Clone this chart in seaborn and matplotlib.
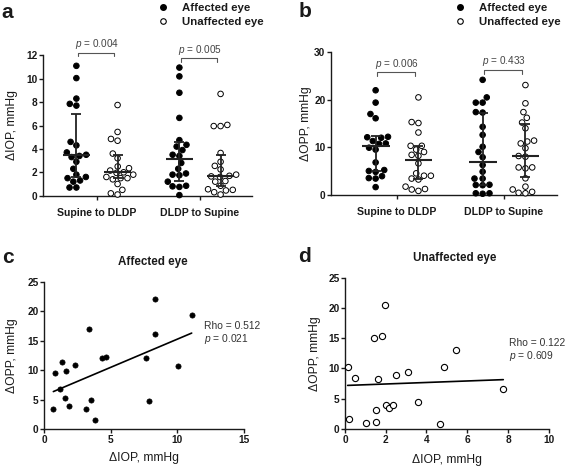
import numpy as np
import pandas as pd
import matplotlib
matplotlib.use("Agg")
import matplotlib.pyplot as plt
from matplotlib.lines import Line2D
import seaborn as sns

# categories
conditions = ["Supine to DLDP", "DLDP to Supine"]
eyes = ["Affected eye", "Unaffected eye"]

# panel a : delta IOP per eye
iop_aff_s2d = [0.7, 0.7, 1.2, 1.3, 1.5, 1.6, 1.8, 2.3, 2.9, 3.3, 3.4, 3.5, 3.7, 4.3, 4.6, 7.7, 7.85, 8.3, 10.05, 11.1]
iop_una_s2d = [0.1, 0.2, 0.5, 1.0, 1.4, 1.5, 1.5, 1.6, 1.8, 1.95, 2.0, 2.15, 2.35, 2.5, 3.2, 3.6, 4.7, 4.85, 5.45, 7.75]
iop_aff_d2s = [0.05, 0.75, 0.8, 0.85, 1.2, 1.75, 1.8, 1.9, 2.3, 2.8, 3.4, 3.5, 3.9, 4.2, 4.35, 4.75, 6.65, 8.8, 10.2, 10.95]
iop_una_d2s = [0.1, 0.3, 0.45, 0.5, 0.55, 0.85, 1.2, 1.25, 1.6, 1.65, 1.7, 1.8, 2.25, 2.55, 2.9, 3.65, 5.95, 5.95, 6.05, 8.7]
# median and 95% CI (order: s2d aff, s2d una, d2s aff, d2s una)
iop_med = [3.45, 2.0, 3.13, 1.68]
iop_lo = [1.6, 1.55, 1.25, 0.83]
iop_hi = [6.95, 3.5, 4.6, 3.45]
iop_p = ["0.004", "0.005"]

# panel b : delta OPP per eye
opp_aff_s2d = [1.6, 3.4, 3.5, 3.9, 4.8, 5.0, 5.2, 6.8, 9.5, 9.9, 10.7, 10.8, 11.3, 12.0, 12.1, 12.2, 16.1, 17.0, 19.4, 22.0]
opp_una_s2d = [0.8, 1.1, 1.2, 1.7, 3.2, 3.4, 4.0, 4.0, 4.5, 6.6, 8.2, 8.4, 9.0, 9.5, 10.3, 10.3, 13.1, 15.1, 15.3, 20.5]
opp_aff_d2s = [0.2, 0.3, 0.3, 2.0, 2.05, 2.1, 3.4, 3.4, 4.85, 6.25, 7.9, 9.0, 10.1, 12.6, 14.3, 17.3, 17.4, 19.4, 19.4, 20.5, 24.2]
opp_una_d2s = [0.3, 0.4, 0.6, 1.1, 1.7, 3.45, 5.55, 5.75, 5.75, 8.0, 8.15, 9.8, 10.8, 11.2, 11.4, 14.0, 15.2, 16.2, 17.4, 19.25, 23.1]
opp_med = [10.25, 7.4, 6.8, 8.2]
opp_lo = [4.9, 3.4, 2.0, 3.8]
opp_hi = [12.3, 10.3, 17.3, 14.9]
opp_p = ["0.006", "0.433"]

# panel c / d : IOP vs OPP
c_iop = [0.68, 0.8, 1.18, 1.3, 1.55, 1.63, 1.85, 2.28, 3.16, 3.38, 3.48, 3.78, 4.31, 4.63, 7.64, 7.86, 8.29, 8.29, 10.04, 11.07]
c_opp = [3.4, 9.45, 6.85, 11.3, 5.2, 9.9, 3.9, 10.86, 3.45, 16.97, 4.98, 1.58, 12.1, 12.27, 12.05, 4.8, 22.06, 16.18, 10.63, 19.4]
d_iop = [0.13, 0.21, 0.49, 1.03, 1.42, 1.5, 1.54, 1.64, 1.82, 1.98, 2.01, 2.18, 2.34, 2.5, 3.09, 3.6, 4.68, 4.84, 5.43, 7.77]
d_opp = [10.3, 1.65, 8.4, 1.05, 15.1, 1.2, 3.2, 8.2, 15.3, 20.5, 4.0, 3.4, 4.0, 9.0, 9.5, 4.5, 0.77, 10.3, 13.1, 6.55]
c_rho, c_p = "0.512", "0.021"
d_rho, d_p = "0.122", "0.609"

sns.set_style("ticks")
plt.rcParams["font.family"] = ["Liberation Sans", "DejaVu Sans"]
plt.rcParams["mathtext.fontset"] = "custom"
plt.rcParams["mathtext.it"] = "Liberation Sans:italic"
plt.rcParams["mathtext.rm"] = "Liberation Sans"
ink = "#1a1a1a"
grey = "#555555"

fig = plt.figure(figsize=(5.67, 4.71), dpi=100)
W, H = 567.0, 471.0


def box(l, r, b, t):
    # pixel box -> figure fraction
    return [l / W, 1 - b / H, (r - l) / W, (b - t) / H]


def style_axes(ax):
    sns.despine(ax=ax)
    for s in ["left", "bottom"]:
        ax.spines[s].set_linewidth(1.0)
        ax.spines[s].set_color(ink)
    ax.tick_params(length=3, width=1.0, colors=ink, labelsize=7.3, pad=1.0)
    for lab in ax.get_xticklabels() + ax.get_yticklabels():
        lab.set_fontweight("bold")


def strip_panel(ax, groups, med, lo, hi, pvals, yticks, ylabel, xlim, br_y, txt_y, br_drop):
    rows = []
    for ci, cond in enumerate(conditions):
        for ei, eye in enumerate(eyes):
            for v in groups[ci][ei]:
                rows.append((cond, eye, v))
    df = pd.DataFrame(rows, columns=["cond", "eye", "val"])
    sns.swarmplot(data=df, x="cond", y="val", hue="eye", order=conditions, hue_order=eyes,
                  dodge=True, palette={"Affected eye": "black", "Unaffected eye": "white"},
                  size=4, edgecolor="black", linewidth=0.7, legend=False, ax=ax)
    for coll in ax.collections:
        coll.set_clip_on(False)
    pos = np.array([c + o for c in range(len(conditions)) for o in (-0.2, 0.2)])
    med, lo, hi = np.array(med), np.array(lo), np.array(hi)
    ax.errorbar(pos, med, yerr=[med - lo, hi - med], fmt="none", ecolor="#222222",
                elinewidth=1.3, capsize=3.5, capthick=1.3, zorder=5)
    ax.hlines(med, pos - 0.13, pos + 0.13, color="#222222", lw=1.5, zorder=5)
    for ci, p in enumerate(pvals):
        x1, x2 = ci - 0.185, ci + 0.17
        ax.plot([x1, x1, x2, x2], [br_y[ci] - br_drop, br_y[ci], br_y[ci], br_y[ci] - br_drop],
                color=grey, lw=0.8, clip_on=False)
        ax.text(ci, txt_y[ci], r"$\mathit{p}$ = " + p, ha="center", va="center",
                fontsize=7.2, color="#444444")
    ax.set_xlim(*xlim)
    ax.set_ylim(yticks[0], yticks[-1])
    ax.set_yticks(yticks)
    ax.set_xlabel("")
    ax.set_ylabel(ylabel, fontsize=8.7, color=ink)
    style_axes(ax)
    ax.tick_params(axis="x", pad=6, labelsize=7.6)


def corr_panel(ax, x, y, filled, rho, p, xticks, title, txt_xy, title_x, title_y):
    if filled:
        sns.scatterplot(x=x, y=y, color="black", s=14, edgecolor="black", linewidth=0.5, ax=ax, zorder=3)
    else:
        sns.scatterplot(x=x, y=y, color="white", s=20, edgecolor="black", linewidth=0.8, ax=ax, zorder=3)
    sns.regplot(x=np.array(x), y=np.array(y), scatter=False, ci=None, truncate=True,
                line_kws=dict(color="black", lw=1.2), ax=ax)
    for coll in ax.collections:
        coll.set_clip_on(False)
    ax.set_xlim(xticks[0], xticks[-1])
    ax.set_xticks(xticks)
    ax.set_ylim(0, 25)
    ax.set_yticks([0, 5, 10, 15, 20, 25])
    ax.set_xlabel("\u0394IOP, mmHg", fontsize=8.7, color=ink)
    ax.set_ylabel("\u0394OPP, mmHg", fontsize=8.7, color=ink)
    ax.text(title_x, title_y, title, transform=ax.transAxes, ha="center", va="center",
            fontsize=8.4, fontweight="bold", color=ink)
    ax.text(txt_xy[0], txt_xy[1], "Rho = " + rho, fontsize=7.4, color="#333333", va="center")
    ax.text(txt_xy[0], txt_xy[1] - 2.1, r"$\mathit{p}$ = " + p, fontsize=7.4, color="#333333", va="center")
    style_axes(ax)


ax_a = fig.add_axes(box(43, 252, 195.7, 55.3))
strip_panel(ax_a, [[iop_aff_s2d, iop_una_s2d], [iop_aff_d2s, iop_una_d2s]],
            iop_med, iop_lo, iop_hi, iop_p, [0, 2, 4, 6, 8, 10, 12], "\u0394IOP, mmHg",
            (-0.524, 1.505), [12.2, 11.75], [12.95, 12.45], 0.3)
ax_a.yaxis.set_label_coords(-0.12, 0.5)

ax_b = fig.add_axes(box(331, 557, 194.7, 52.3))
strip_panel(ax_b, [[opp_aff_s2d, opp_una_s2d], [opp_aff_d2s, opp_una_d2s]],
            opp_med, opp_lo, opp_hi, opp_p, [0, 10, 20, 30], "\u0394OPP, mmHg",
            (-0.617, 1.495), [25.9, 26.3], [27.5, 28.2], 0.9)
ax_b.yaxis.set_label_coords(-0.085, 0.5)

ax_c = fig.add_axes(box(44.3, 244, 429, 281.7))
corr_panel(ax_c, c_iop, c_opp, True, c_rho, c_p, [0, 5, 10, 15], "Affected eye",
           (12.0, 17.4), 0.543, 1.132)
ax_c.yaxis.set_label_coords(-0.13, 0.5)
ax_c.xaxis.set_label_coords(0.5, -0.155)

ax_d = fig.add_axes(box(345, 548.7, 429, 277.7))
corr_panel(ax_d, d_iop, d_opp, False, d_rho, d_p, [0, 2, 4, 6, 8, 10], "Unaffected eye",
           (8.05, 14.2), 0.54, 1.128)
ax_d.yaxis.set_label_coords(-0.118, 0.5)
ax_d.xaxis.set_label_coords(0.5, -0.165)

# legends
handles = [Line2D([], [], ls="none", marker="o", ms=4, mfc="black", mec="black"),
           Line2D([], [], ls="none", marker="o", ms=4, mfc="white", mec="black", mew=0.8)]
for lx in (157.5 / W, 454.5 / W):
    leg = fig.legend(handles, eyes, loc="upper left", bbox_to_anchor=(lx, 0.993), frameon=False,
                     borderpad=0, borderaxespad=0, handlelength=1.0, handletextpad=1.12,
                     labelspacing=0.3, prop=dict(size=8.2, weight="bold"))
    for t in leg.get_texts():
        t.set_color(ink)

# panel letters
for letter, (px, py) in zip("abcd", [(1, 18), (299, 17), (2, 263), (298, 262)]):
    fig.text(px / W, 1 - py / H, letter, fontsize=15, fontweight="bold", va="baseline", color=ink)

fig.savefig("out.png", dpi=100)
